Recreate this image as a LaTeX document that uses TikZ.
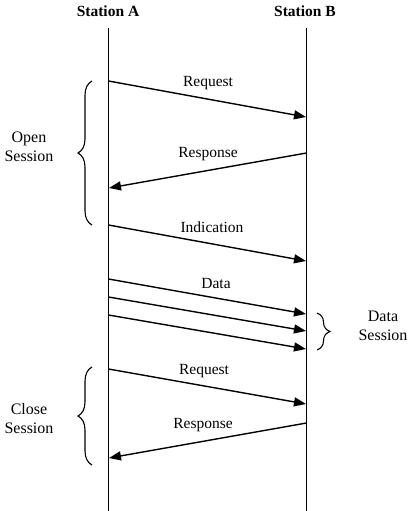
\documentclass[tikz,border=0pt]{standalone}
\usepackage{fontspec}
\setmainfont{Liberation Serif}
\usetikzlibrary{arrows.meta,decorations.pathreplacing}
\tikzset{
  lifeline/.style={line width=1.5pt},
  msg/.style={line width=1.4pt,-{Triangle[length=12pt,width=9pt]}},
  lbl/.style={font=\fontsize{15.5}{17}\selectfont,inner sep=0pt},
  ttl/.style={font=\fontsize{15.5}{18}\selectfont\bfseries,inner sep=0pt},
  brc/.style={line width=1.1pt,decorate,decoration={brace,amplitude=14pt}},
  side/.style={font=\fontsize{16}{19}\selectfont,align=center,inner sep=0pt}
}
\begin{document}
\begin{tikzpicture}[x=1pt,y=-1pt]
\useasboundingbox (0,0) rectangle (407,511);
% titles
\node[ttl] (tA) at (108,11) {Station A};
\node[ttl] (tB) at (305,11) {Station B};
% lifelines
\coordinate (A0) at (108.5,28);
\coordinate (A1) at (108.5,511);
\coordinate (B0) at (306.5,28);
\coordinate (B1) at (306.5,511);
\draw[lifeline] (A0) -- (A1);
\draw[lifeline] (B0) -- (B1);
% message endpoints
\coordinate (r1s) at (108.5,81);  \coordinate (r1e) at (306,117);
\coordinate (p1s) at (306.5,153); \coordinate (p1e) at (109,188);
\coordinate (ins) at (108.5,225); \coordinate (ine) at (306,261);
\coordinate (d1s) at (108.5,279); \coordinate (d1e) at (306,314);
\coordinate (d2s) at (108.5,297); \coordinate (d2e) at (306,331);
\coordinate (d3s) at (108.5,315); \coordinate (d3e) at (306,349);
\coordinate (r2s) at (108.5,369); \coordinate (r2e) at (306,404);
\coordinate (p2s) at (306.5,423); \coordinate (p2e) at (109,458);
\draw[msg] (r1s) -- (r1e);
\draw[msg] (p1s) -- (p1e);
\draw[msg] (ins) -- (ine);
\draw[msg] (d1s) -- (d1e);
\draw[msg] (d2s) -- (d2e);
\draw[msg] (d3s) -- (d3e);
\draw[msg] (r2s) -- (r2e);
\draw[msg] (p2s) -- (p2e);
% labels
\node[lbl] (lr1) at (208,83) {Request};
\node[lbl] (lp1) at (208,154) {Response};
\node[lbl] (lin) at (212,227) {Indication};
\node[lbl] (ld) at (216,283) {Data};
\node[lbl] (lr2) at (204,371) {Request};
\node[lbl] (lp2) at (203,425) {Response};
% braces
\coordinate (ob1) at (92,225); \coordinate (ob2) at (92,81);
\coordinate (cb1) at (92,465); \coordinate (cb2) at (92,367);
\coordinate (db1) at (317,313); \coordinate (db2) at (317,350);
\draw[brc] (ob1) -- (ob2);
\draw[brc] (cb1) -- (cb2);
\draw[brc,decoration={amplitude=13pt}] (db1) -- (db2);
\node[side] (os) at (29,147) {Open\\Session};
\node[side] (cs) at (29,419) {Close\\Session};
\node[side] (ds) at (383,326) {Data\\Session};
\end{tikzpicture}
\end{document}
